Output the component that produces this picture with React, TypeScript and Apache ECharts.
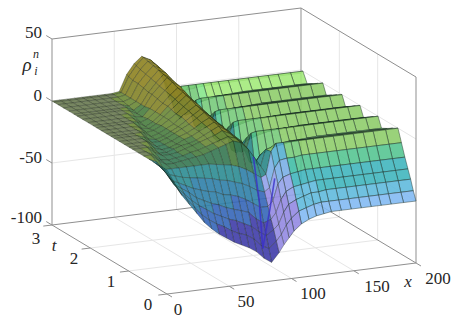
import React, { useEffect, useRef } from "react";
import * as echarts from "echarts";

const xValues = [0,6,12,18,24,30,36,42,48,54,60,66,72,78,84,90,94,98,102,108,114,120,126,132,140,148,156,164,172,180,190,200];
const tValues = [0,0.07,0.14,0.21,0.29,0.38,0.47,0.61,0.75,0.9,0.99,1.11,1.24,1.37,1.46,1.58,1.71,1.84,1.93,2.06,2.2,2.34,2.43,2.56,2.7,2.84,2.95,3];

const tailRidge = [0,0,0,0,0,0,0,0,0,0,0,0,0,0];
const tailA = [-6,-4.6,-4,-3.3,-3,-3,-2.8,-2.6,-2.6,-2.6,-2.6,-2.6,-2.6,-2.6];
const tailB = [-12,-9.4,-8,-6.7,-6,-6,-5.7,-5.4,-5.4,-5.4,-5.4,-5.4,-5.4,-5.4];
const tailC = [-18,-14,-12,-10,-9,-9,-8.5,-8,-8,-8,-8,-8,-8,-8];

const zRows: number[][] = [
  [0,-11,-22,-30,-38,-46,-52,-57,-61,-65,-68,-71,-75,-81,-85,-78,-72,-67,-62,-57,-54,-52,-51,-50,-50,-50,-50,-50,-50,-50,-50,-50],
  [0,-10,-20,-27,-34,-41,-46,-50,-53,-57,-60,-62,-66,-72,-75,-70,-65,-58,-53,-48,-46,-44,-43,-43,-43,-43,-43,-43,-43,-43,-43,-43],
  [0,-9,-18,-24,-30,-35,-39,-43,-46,-49,-51,-54,-57,-62,-66,-62,-58,-49,-43,-40,-38,-36,-36,-35,-35,-35,-35,-35,-35,-35,-35,-35],
  [0,-7,-17,-21,-25,-30,-33,-36,-38,-41,-43,-45,-47,-53,-57,-55,-50,-40,-34,-31,-30,-29,-28,-28,-28,-28,-28,-28,-28,-28,-28,-28],
  [0,-6,-15,-18,-21,-24,-26,-28,-29,-32,-33,-35,-38,-42,-46,-46,-42,-29,-24,-22,-21,-20,-20,-20,-20,-20,-20,-20,-20,-20,-20,-20],
  [0,-5,-12,-14,-16,-17,-18,-19,-20,-22,-23,-25,-27,-30,-34,-36,-33,-18,-12,-11,-11,-10,-10,-10,-10,-10,-10,-10,-10,-10,-10,-10],
  [0,-3,-10,-10,-10,-10,-10,-10,-10,-11,-12,-13,-15,-18,-22,-26,-24,-6,...tailRidge],
  [0,0,-5,-9,-9,-8,-7,-6,-5,-3,-1,1,3,1,-5,-14,-20,-7,...tailA],
  [0,0,-3,-8,-9,-8,-7,-5,-4,-2,0,2,4,2,-3,-12,-20,-14,...tailB],
  [0,0,0,-5,-8,-8,-7,-5,-3,-1,1,3,6,3,-2,-12,-22,-24,...tailC],
  [0,0,0,-3,-8,-8,-6,-4,-3,-1,2,5,8,4,-1,-6,-14,-1,...tailRidge],
  [0,0,0,0,-6,-8,-7,-5,-2,0,3,6,9,5,0,-8,-18,-7,...tailA],
  [0,0,0,0,-4,-8,-7,-5,-2,0,3,7,10,6,0,-8,-19,-14,...tailB],
  [0,0,0,0,-2,-7,-7,-5,-2,1,4,8,12,7,1,-8,-21,-24,...tailC],
  [0,0,0,0,0,-6,-7,-5,-2,1,5,9,13,8,2,-3,-13,-1,...tailRidge],
  [0,0,0,0,0,-3,-7,-5,-2,1,6,10,14,9,3,-5,-17,-7,...tailA],
  [0,0,0,0,0,-1,-6,-5,-2,2,6,11,16,11,4,-5,-18,-14,...tailB],
  [0,0,0,0,0,0,-5,-6,-3,2,7,12,17,12,4,-5,-20,-24,...tailC],
  [0,0,0,0,0,0,-2,-6,-3,2,8,13,18,13,5,-1,-12,-1,...tailRidge],
  [0,0,0,0,0,0,-1,-5,-3,2,8,14,19,15,6,-3,-16,-7,...tailA],
  [0,0,0,0,0,0,0,-3,-4,2,9,15,21,17,7,-3,-17,-14,...tailB],
  [0,0,0,0,0,0,0,-1,-4,1,10,16,22,18,7,-3,-19,-24,...tailC],
  [0,0,0,0,0,0,0,0,-3,1,10,17,23,19,8,0,-11,-1,...tailRidge],
  [0,0,0,0,0,0,0,0,-2,1,11,18,24,21,11,-2,-15,-7,...tailA],
  [0,0,0,0,0,0,0,0,-1,1,12,19,25,22,14,-2,-16,-14,...tailB],
  [0,0,0,0,0,0,0,0,0,1,12,20,26,23,16,-2,-18,-24,...tailC],
  [0,0,0,0,0,0,0,0,0,1,13,21,27,24,18,4,-9,-1,...tailRidge],
  [0,0,0,0,0,0,0,0,0,1,14,22,27,24,18,4,-11,-3,...tailA],
];

const streakLeft = [[80,0.1,-75],[88,0.45,-45],[98,0.93,-19]];
const streakRight = [[80,0.1,-75],[92,0.3,-48],[101,0.47,-28]];

const zTicks = [50,0,-50,-100];
const xTicks = [0,50,100,150,200];
const tTicks = [0,1,2,3];

// projection of the 3-D box onto the page
const project = (x: number, t: number, z: number): [number, number] => [
  167 + 1.245 * x - 38.33 * t,
  294 - 0.155 * x - 23 * t - 1.24 * (z + 100),
];

const rightBands: [number, string][] = [
  [-1,"#98d068"],[-5,"#8ccc68"],[-10,"#74ca78"],[-16,"#52c490"],[-22,"#3cbca4"],[-32,"#3cb4bc"],[-44,"#5cb8dc"],[-56,"#80b8f2"],[-68,"#9aaaf6"],[-999,"#9c90ee"],
];
const leftBands: [number, string][] = [
  [15,"#8f8425"],[5,"#86852b"],[-1,"#6d8a3a"],[-6,"#4c7f42"],[-14,"#3a7a55"],[-999,"#2f8a8a"],
];
const frontBands: [number, string][] = [
  [-20,"#2c8c92"],[-38,"#2f7fa8"],[-52,"#3566b8"],[-999,"#3f3ca8"],
];
const pick = (bands: [number, string][], v: number) => (bands.find((b) => v >= b[0]) || bands[bands.length - 1])[1];
const toRgba = (hex: string, f: number, a: number) => {
  const n = parseInt(hex.slice(1), 16);
  const [r, g, b] = [(n >> 16) * f, ((n >> 8) & 255) * f, (n & 255) * f].map((c) => Math.min(255, Math.round(c)));
  return `rgba(${r},${g},${b},${a})`;
};
const cellColour = (z: number, x: number, t: number, flat: boolean) => {
  if (flat) return "rgba(112,128,88,0.95)";
  if (t < 0.47 && x >= 90 && x < 108) return toRgba(pick(rightBands, z - 30), 0.95, 0.9);
  if (x < 90 && t < 0.47) return toRgba(pick(frontBands, z), 1, 0.9);
  if (x < 96) return toRgba(pick(leftBands, z), 1, 0.92);
  const f = t > 2.4 && z > -6 ? 1.14 : 1;
  return toRgba(pick(rightBands, z), f, 0.88);
};

const cells: number[][] = [];
for (let r = tValues.length - 2; r >= 0; r--) {
  for (let c = xValues.length - 2; c >= 0; c--) cells.push([r, c]);
}

const P = (api: any, x: number, t: number, z: number) => api.coord(project(x, t, z));
const seg = (api: any, a: number[], b: number[], stroke: string, lineWidth = 1) => ({
  type: "line",
  shape: { x1: api.coord(project(a[0], a[1], a[2]))[0], y1: api.coord(project(a[0], a[1], a[2]))[1], x2: api.coord(project(b[0], b[1], b[2]))[0], y2: api.coord(project(b[0], b[1], b[2]))[1] },
  style: { stroke, lineWidth },
  silent: true,
});

const GRID = "#e6e6e6";
const AXIS = "#8f8f8f";
const boxOnce = (params: any, api: any) => {
  if (params.dataIndex !== 0) return { type: "group", children: [] };
  const ch: any[] = [];
  for (const z of [0, -50]) {
    ch.push(seg(api, [0, 3, z], [200, 3, z], GRID), seg(api, [200, 3, z], [200, 0, z], GRID));
  }
  for (const x of [50, 100, 150]) {
    ch.push(seg(api, [x, 3, -100], [x, 3, 50], GRID), seg(api, [x, 0, -100], [x, 3, -100], GRID));
  }
  for (const t of [1, 2]) {
    ch.push(seg(api, [200, t, -100], [200, t, 50], GRID), seg(api, [0, t, -100], [200, t, -100], GRID));
  }
  ch.push(
    seg(api, [0, 3, 50], [200, 3, 50], AXIS),
    seg(api, [200, 3, 50], [200, 0, 50], AXIS),
    seg(api, [0, 3, 50], [0, 3, -100], AXIS),
    seg(api, [200, 3, 50], [200, 3, -100], AXIS),
    seg(api, [200, 0, 50], [200, 0, -100], AXIS),
    seg(api, [0, 3, -100], [200, 3, -100], AXIS),
    seg(api, [200, 3, -100], [200, 0, -100], AXIS),
    seg(api, [0, 3, -100], [0, 0, -100], AXIS),
    seg(api, [0, 0, -100], [200, 0, -100], AXIS)
  );
  for (const z of zTicks) ch.push(seg(api, [0, 3, z], [0, 3.15, z], AXIS));
  for (const x of xTicks) ch.push(seg(api, [x, 0, -100], [x, -0.13, -100], AXIS));
  for (const t of tTicks) ch.push(seg(api, [0, t, -100], [-7, t, -100], AXIS));
  return { type: "group", children: ch };
};

const surface = (params: any, api: any) => {
  const [r, c] = cells[params.dataIndex];
  const x0 = xValues[c], x1 = xValues[c + 1], t0 = tValues[r], t1 = tValues[r + 1];
  const z00 = zRows[r][c], z01 = zRows[r][c + 1], z10 = zRows[r + 1][c], z11 = zRows[r + 1][c + 1];
  const avg = (z00 + z01 + z10 + z11) / 4;
  const flat = z00 === 0 && z01 === 0 && z10 === 0 && z11 === 0 && x0 < 60;
  return {
    type: "polygon",
    shape: { points: [P(api, x0, t0, z00), P(api, x1, t0, z01), P(api, x1, t1, z11), P(api, x0, t1, z10)] },
    style: { fill: cellColour(avg, x0, t0, flat), stroke: x0 < 96 ? "rgba(25,35,20,0.5)" : "rgba(25,45,35,0.75)", lineWidth: 0.6 },
    silent: true,
  };
};

const streaks = (params: any, api: any) => {
  if (params.dataIndex !== 0) return { type: "group", children: [] };
  const mk = (pts: number[][], stroke: string) => ({
    type: "polyline",
    shape: { points: pts.map((p) => P(api, p[0], p[1], p[2])) },
    style: { stroke, lineWidth: 1.6, fill: "none", opacity: 0.8 },
    silent: true,
  });
  return { type: "group", children: [mk(streakLeft, "#3a30c8"), mk(streakRight, "#3a30c8")] };
};

const labelFont = '"Liberation Serif", serif';
const textLabels: [string, number, number, string, string][] = [
  ["50", 42, 32, "right", "normal"], ["0", 42, 95, "right", "normal"], ["-50", 42, 157, "right", "normal"], ["-100", 42, 217, "right", "normal"],
  ["3", 36, 238, "center", "normal"], ["2", 74, 258, "center", "normal"], ["1", 111, 281, "center", "normal"], ["0", 148, 304, "center", "normal"],
  ["0", 178, 309, "center", "normal"], ["50", 246, 301, "center", "normal"], ["100", 313, 293, "center", "normal"], ["150", 377, 286, "center", "normal"], ["200", 438, 278, "center", "normal"],
  ["t", 54, 245, "center", "italic"], ["x", 408, 281, "center", "italic"], ["ρ", 27, 64, "center", "italic"],
];
const smallLabels: [string, number, number][] = [["n", 36, 54], ["i", 36, 71]];

const texts = (params: any, api: any) => {
  if (params.dataIndex !== 0) return { type: "group", children: [] };
  const mk = (s: string, x: number, y: number, align: string, fontStyle: string, size: number) => {
    const p = api.coord([x, y]);
    return { type: "text", x: p[0], y: p[1], style: { text: s, fill: "#262626", font: `${fontStyle} ${size}px ${labelFont}`, textAlign: align, textVerticalAlign: "middle" }, silent: true };
  };
  return {
    type: "group",
    children: [
      ...textLabels.map((l) => mk(l[0], l[1], l[2], l[3], l[4], l[0] === "ρ" ? 19 : 17)),
      ...smallLabels.map((l) => mk(l[0], l[1], l[2], "center", "italic", 12)),
    ],
  };
};

export default function App() {
  const ref = useRef<HTMLDivElement>(null);
  useEffect(() => {
    const chart = echarts.init(ref.current!, undefined, { renderer: "svg" });
    const one = [[0, 0]];
    chart.setOption({
      animation: false,
      backgroundColor: "#ffffff",
      grid: { left: 0, right: 0, top: 0, bottom: 0 },
      xAxis: { type: "value", min: 0, max: 461, show: false },
      yAxis: { type: "value", min: 0, max: 320, inverse: true, show: false },
      series: [
        { type: "custom", coordinateSystem: "cartesian2d", clip: false, silent: true, renderItem: boxOnce, data: one },
        { type: "custom", coordinateSystem: "cartesian2d", clip: false, silent: true, renderItem: surface, data: cells },
        { type: "custom", coordinateSystem: "cartesian2d", clip: false, silent: true, renderItem: streaks, data: one },
        { type: "custom", coordinateSystem: "cartesian2d", clip: false, silent: true, renderItem: texts, data: one },
      ],
    });
    return () => chart.dispose();
  }, []);
  return <div ref={ref} style={{ position: "fixed", left: 0, top: 0, width: 461, height: 320 }} />;
}
